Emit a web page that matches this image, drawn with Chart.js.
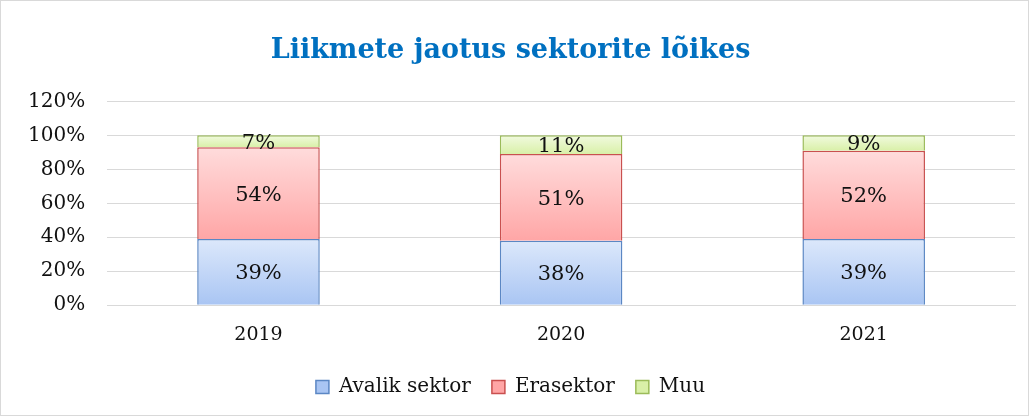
<!DOCTYPE html>
<html>
<head>
<meta charset="utf-8">
<script src="https://cdn.jsdelivr.net/npm/chart.js@4"></script>
<style>
    body { margin: 0; background: #fff; }
    #wrap { width: 1029px; height: 416px; border: 1px solid #d9d9d9; box-sizing: border-box; }
</style>
</head>
<body>
<div id="wrap"><canvas id="sectorChart"></canvas></div>
<script>
const years = ["2019", "2020", "2021"];
const avalik = [39, 38, 39];
const era = [54, 51, 52];
const muu = [7, 11, 9];
const yTicks = [0, 20, 40, 60, 80, 100, 120];

const FONT = "'DejaVu Serif', serif";

// gradient per segment, light on top, a bit darker at the bottom
function segmentFill(top, bottom, mid) {
    return function (ctx) {
        const chart = ctx.chart;
        if (!chart.chartArea || ctx.type !== "data") return mid;
        const y = chart.scales.y;
        let start = 0;
        for (let d = 0; d < ctx.datasetIndex; d++) {
            start += chart.data.datasets[d].data[ctx.dataIndex];
        }
        const end = start + ctx.raw;
        const g = chart.ctx.createLinearGradient(0, y.getPixelForValue(end), 0, y.getPixelForValue(start));
        g.addColorStop(0, top);
        g.addColorStop(1, bottom);
        return g;
    };
}

const valueLabels = {
    id: "valueLabels",
    afterDatasetsDraw(chart) {
        const c = chart.ctx;
        c.save();
        c.font = "21px " + FONT;
        c.fillStyle = "#111";
        c.textAlign = "center";
        c.textBaseline = "middle";
        chart.data.datasets.forEach(function (ds, di) {
            chart.getDatasetMeta(di).data.forEach(function (bar, i) {
                c.fillText(ds.data[i] + "%", bar.x, (bar.y + bar.base) / 2 + 2);
            });
        });
        c.restore();
    }
};

// legend padding gives the wide gaps between items, but takes less height
const tightLegend = {
    id: "tightLegend",
    beforeLayout(chart) {
        const lg = chart.legend;
        if (!lg || lg._tight) return;
        const fit = lg.fit;
        lg.fit = function () {
            fit.call(this);
            this.height -= 8;
        };
        lg._tight = true;
    }
};

new Chart(document.getElementById("sectorChart"), {
    type: "bar",
    data: {
        labels: years,
        datasets: [{
            label: "Avalik sektor",
            data: avalik,
            backgroundColor: segmentFill("#dce8fb", "#a9c5f3", "#c3d7f7"),
            borderColor: "#5b87c4",
            borderWidth: 1.5
        }, {
            label: "Erasektor",
            data: era,
            backgroundColor: segmentFill("#ffdcdc", "#ffa6a6", "#ffc4c4"),
            borderColor: "#c9504f",
            borderWidth: 1.5
        }, {
            label: "Muu",
            data: muu,
            backgroundColor: segmentFill("#f1fadf", "#d9f0a8", "#e6f5c6"),
            borderColor: "#9bbb59",
            borderWidth: 1.5
        }]
    },
    options: {
        responsive: true,
        maintainAspectRatio: false,
        animation: false,
        layout: { padding: { left: 5, right: 13, top: 22, bottom: 16 } },
        datasets: { bar: { categoryPercentage: 1, barPercentage: 0.405 } },
        scales: {
            x: {
                stacked: true,
                grid: { display: false },
                border: { color: "#d9d9d9" },
                ticks: { color: "#111", font: { family: FONT, size: 19 }, padding: 10 }
            },
            y: {
                stacked: true,
                min: 0,
                max: 120,
                afterBuildTicks: function (axis) {
                    axis.ticks = yTicks.map(function (v) { return { value: v }; });
                },
                grid: { color: "#d9d9d9", drawTicks: false },
                border: { display: false },
                ticks: {
                    color: "#111",
                    font: { family: FONT, size: 20 },
                    padding: 22,
                    callback: function (v) { return v + "%"; }
                }
            }
        },
        plugins: {
            title: {
                display: true,
                text: "Liikmete jaotus sektorite lõikes",
                color: "#0070c0",
                font: { family: FONT, size: 27, weight: "bold" },
                padding: { top: 12, bottom: 34 }
            },
            legend: {
                position: "bottom",
                labels: {
                    color: "#111",
                    font: { family: FONT, size: 20 },
                    boxWidth: 13,
                    boxHeight: 13,
                    padding: 21
                }
            },
            tooltip: { enabled: false }
        }
    },
    plugins: [valueLabels, tightLegend]
});
</script>
</body>
</html>
